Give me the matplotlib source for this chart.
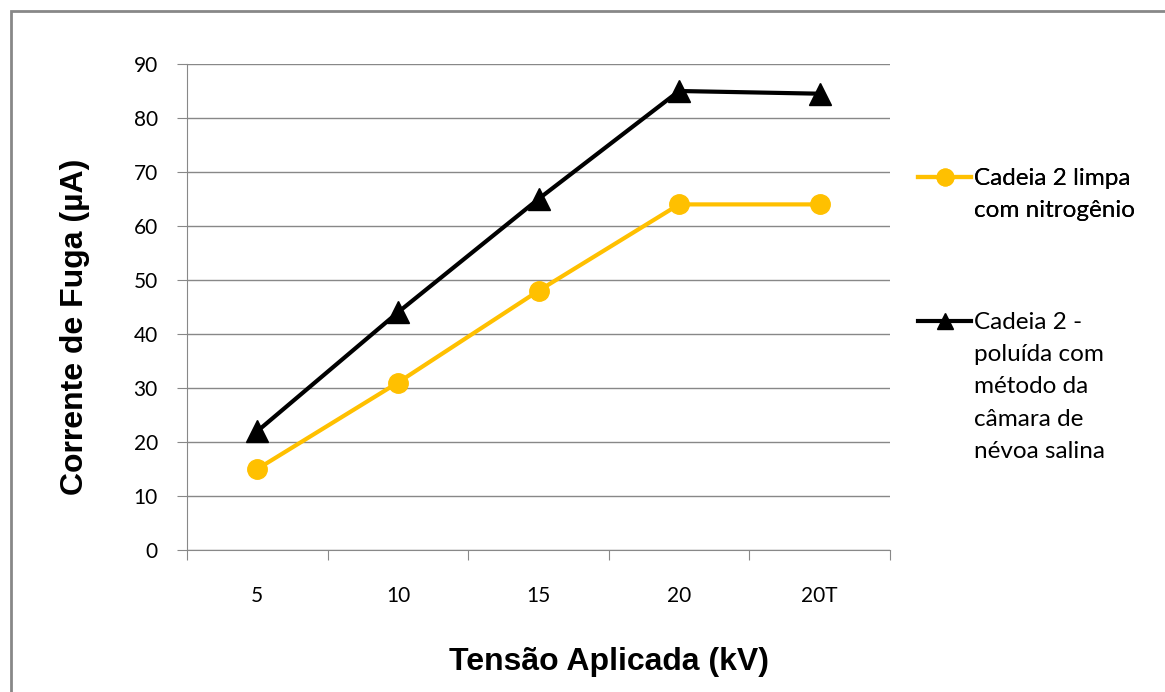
import matplotlib
matplotlib.use("Agg")
import matplotlib.pyplot as plt
from matplotlib.lines import Line2D
from matplotlib.patches import Rectangle

# dados
categorias = ['5', '10', '15', '20', '20T']
limpa = [15, 31, 48, 64, 64]
poluida = [22, 44, 65, 85, 84.5]
legenda_limpa = ['Cadeia 2 limpa', 'com nitrogênio']
legenda_poluida = ['Cadeia 2 -', 'poluída com', 'método da', 'câmara de', 'névoa salina']

fig = plt.figure(figsize=(11.65, 6.92), dpi=100)
ax = fig.add_axes([187/1165, 1-550/692, (890-187)/1165, (550-64)/692])

x = list(range(len(categorias)))
ax.plot(x, limpa, color='#FFC000', lw=3, marker='o', ms=14, zorder=3)
ax.plot(x, poluida, color='black', lw=3, marker='^', ms=16, zorder=3)

ax.set_xlim(-0.5, len(categorias) - 0.5)
ax.set_ylim(0, 90)
ax.set_yticks(range(0, 91, 10))
ax.set_xticks([i - 0.5 for i in range(len(categorias) + 1)])
ax.set_xticklabels([])
ax.set_xticks(x, minor=True)
ax.set_xticklabels(categorias, minor=True)
ax.tick_params(axis='x', which='minor', length=0, pad=26)
ax.tick_params(axis='x', which='major', length=7, color='#888888')
ax.tick_params(axis='y', length=7, color='#888888', pad=14)
for lab in ax.get_yticklabels() + ax.get_xticklabels(minor=True):
    lab.set_fontfamily('Lato')
    lab.set_fontsize(15)

ax.grid(axis='y', color='#888888', lw=1)
ax.set_axisbelow(True)
for s in ['top', 'right']:
    ax.spines[s].set_visible(False)
ax.spines['left'].set_color('#888888')
ax.spines['bottom'].set_color('#888888')

fonte_eixo = dict(family=['Liberation Sans Narrow', 'Liberation Sans'], weight='bold', size=23)
ax.set_xlabel('Tensão Aplicada (kV)', **fonte_eixo)
ax.set_ylabel('Corrente de Fuga (µA)', **fonte_eixo)
ax.xaxis.set_label_coords(0.6, -0.2)
ax.yaxis.set_label_coords(-0.138, 0.459)

# legenda: primeira linha com o simbolo, as outras sem
def monta_legenda(linha, textos, topo):
    vazio = Line2D([], [], linestyle='none')
    hs = [linha] + [vazio] * (len(textos) - 1)
    leg = fig.legend(hs, textos, loc='upper left', bbox_to_anchor=(918/1165, 1 - topo/692),
                     frameon=False, prop={'family': 'Lato', 'size': 17.5},
                     handlelength=2.2, handletextpad=0.12, labelspacing=0.46,
                     borderaxespad=0, borderpad=0)
    return leg

h1 = Line2D([], [], color='#FFC000', lw=3, marker='o', ms=12)
h2 = Line2D([], [], color='black', lw=3, marker='^', ms=12)
leg1 = monta_legenda(h1, legenda_limpa, 168)
fig.add_artist(leg1)
monta_legenda(h2, legenda_poluida, 312)

fig.add_artist(Rectangle((11/1165, -0.5), 2, 1.5 - 11/692, transform=fig.transFigure,
                         fill=False, ec='#888888', lw=2))

fig.savefig('out.png', dpi=100)
